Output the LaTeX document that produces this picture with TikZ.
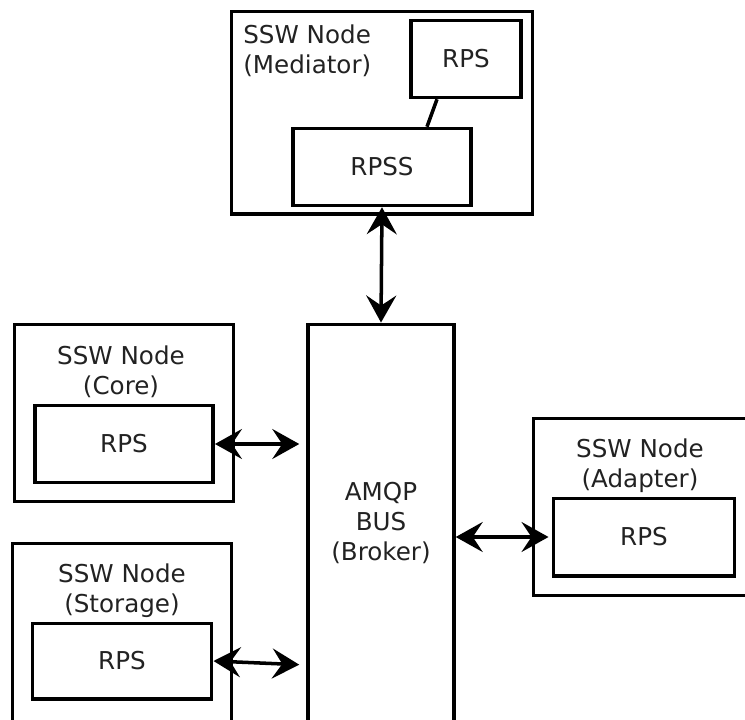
\documentclass[tikz,border=0pt]{standalone}
\usepackage{fontspec}
\setmainfont{DejaVu Sans}
\usepackage{tikz}
\usetikzlibrary{arrows.meta, positioning, calc}
\definecolor{textgray}{RGB}{34,34,34}
\tikzstyle{nodebox} = [rectangle, draw=black, line width=2pt, inner sep=0pt]
\tikzstyle{rpsbox} = [rectangle, draw=black, line width=2pt, minimum width=3.57cm, minimum height=1.54cm, text=textgray, font=\fontsize{14}{17}\selectfont]
\tikzstyle{sswtext} = [inner sep=0pt, text=textgray, align=center, font=\fontsize{14}{17}\selectfont]
\tikzstyle{arrow} = [line width=2pt, {Stealth[length=0.54cm, width=0.6cm, inset=0.2cm]}-{Stealth[length=0.54cm, width=0.6cm, inset=0.2cm]}]

\begin{document}
\begin{tikzpicture}[x=0.02cm, y=-0.02cm]
\useasboundingbox (0,0) rectangle (745,720);

% ===== MEDIATOR (TOP) =====
\node (mediator) [nodebox, minimum width=6.03cm, minimum height=4.05cm] at (382,112.75) {};
\node (mediator_text) [sswtext, align=left, anchor=west] at (243,51) {SSW Node\\(Mediator)};
\node (med_rps) [rpsbox, minimum width=2.21cm] at (466,59) {RPS};
\node (rpss) [rpsbox] at (382,167) {RPSS};

% ===== BUS (CENTER) =====
\node (bus) [nodebox, minimum width=2.92cm, minimum height=8.71cm] at (381,542) {};
\node (bus_text) [sswtext] at (381,523) {AMQP\\BUS\\(Broker)};

% ===== LEFT NODES =====
\node (core) [nodebox, minimum width=4.39cm, minimum height=3.55cm] at (124,413) {};
\node (core_text) [sswtext] at (121,372) {SSW Node\\(Core)};
\node (core_rps) [rpsbox] at (124,444) {RPS};

\node (storage) [nodebox, minimum width=4.39cm, minimum height=3.73cm] at (122,636.75) {};
\node (storage_text) [sswtext] at (122,591) {SSW Node\\(Storage)};
\node (storage_rps) [rpsbox, minimum width=3.59cm, minimum height=1.51cm] at (122,661) {RPS};

% ===== RIGHT NODE =====
\node (adapter) [nodebox, minimum width=4.39cm, minimum height=3.55cm] at (643,507) {};
\node (adapter_text) [sswtext] at (640,466) {SSW Node\\(Adapter)};
\node (adapter_rps) [rpsbox, minimum width=3.63cm, minimum height=1.55cm] at (644,537) {RPS};

% ===== ARROWS =====
\draw [line width=2pt] ([xshift=-0.58cm]med_rps.south) -- ([xshift=0.9cm]rpss.north);
\draw [arrow] (rpss.south) -- (bus.north);
\draw [arrow, shorten >=0.14cm] (core_rps.east) -- (core_rps.east -| bus.west);
\draw [arrow, shorten >=0.14cm] (storage_rps.east) -- ([yshift=-0.08cm]storage_rps.east -| bus.west);
\draw [arrow, shorten >=0.06cm] (bus.east |- adapter_rps.west) -- (adapter_rps.west);

\end{tikzpicture}
\end{document}
